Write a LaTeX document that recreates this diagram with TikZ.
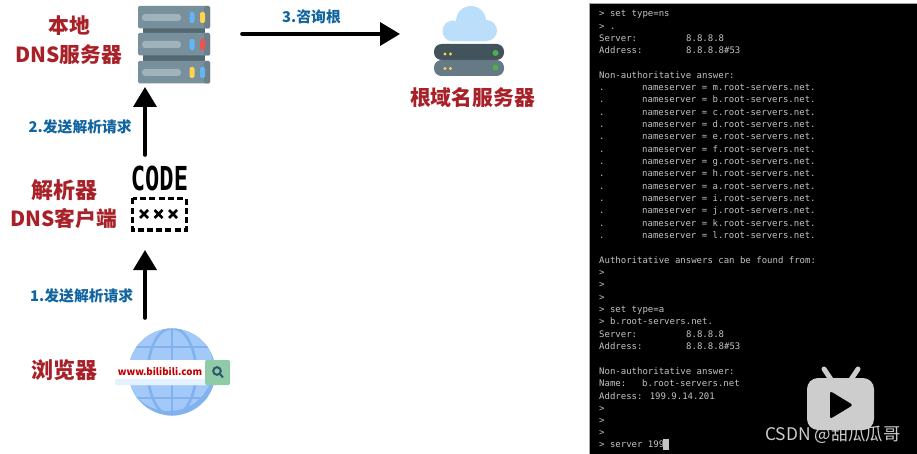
\documentclass[tikz,border=0pt]{standalone}
\usepackage{fontspec}
\usepackage{xcolor}
\usepackage{tikz}
\usetikzlibrary{arrows.meta,positioning}
\setmainfont{Noto Sans CJK SC}
\newfontfamily\termfont{DejaVu Sans Mono}
\definecolor{titlered}{RGB}{168,32,40}
\definecolor{stepblue}{RGB}{16,100,160}
\definecolor{slate}{RGB}{120,144,156}
\definecolor{slatedark}{RGB}{84,104,114}
\definecolor{slatelight}{RGB}{160,178,188}
\definecolor{ledblue}{RGB}{100,181,246}
\definecolor{ledyellow}{RGB}{255,213,79}
\definecolor{ledred}{RGB}{239,83,80}
\definecolor{ledgreen}{RGB}{76,175,80}
\definecolor{cloudblue}{RGB}{187,222,251}
\definecolor{globeblue}{RGB}{163,201,248}
\definecolor{gridblue}{RGB}{130,177,240}
\definecolor{barband}{RGB}{227,242,253}
\definecolor{bargreen}{RGB}{142,203,166}
\definecolor{lensblue}{RGB}{47,85,112}
\definecolor{termtext}{RGB}{195,195,195}
\definecolor{markgray}{RGB}{205,205,205}

\begin{document}
\begin{tikzpicture}[x=1pt,y=-1pt,
      title/.style={font=\fontsize{20.8}{24}\selectfont\bfseries, text=titlered, inner sep=0pt},
      bigtitle/.style={title, font=\fontsize{22}{24}\selectfont\bfseries},
      steplabel/.style={font=\fontsize{14.8}{16}\selectfont\bfseries, text=stepblue, inner sep=0pt},
      bigarr/.style={-{Triangle[length=20pt,width=23pt]}, line width=3.6pt, line cap=round, color=black},
      icon/.style={inner sep=0pt, outer sep=0pt},
      termline/.style={anchor=base west, inner sep=0pt, text=termtext, font=\termfont\fontsize{9}{10}\selectfont},
      slab/.style={fill=slate, rounded corners=1.5pt},
      led/.style={rounded corners=2pt}
    ]
      \useasboundingbox (0,0) rectangle (917,454);
      \fill[white] (0,0) rectangle (917,454);

      \node[icon, minimum width=72pt, minimum height=77pt] (dnsserver) at (174,44.5) {};
      \node[icon, minimum width=57pt, minimum height=66pt] (code) at (159.5,199) {};
      \node[icon, minimum width=86pt, minimum height=88pt] (browser) at (172,373) {};
      \node[icon, minimum width=70pt, minimum height=70pt] (rootserver) at (469,41) {};

      \fill[slatedark] (143,26) rectangle (205,64);
      \foreach \y/\ca/\cb in {6/ledblue/ledyellow,33/ledblue/ledred,61/ledyellow/ledblue}{
        \fill[slab] (138,\y) rectangle (210,\y+22.5);
        \fill[slatedark!85, rounded corners=1.5pt] (204,\y) rectangle (210,\y+22.5);
        \fill[slatelight, rounded corners=3pt] (142,\y+8) rectangle (181,\y+15);
        \fill[led,\ca] (189.5,\y+6) rectangle (194.5,\y+17);
        \fill[led,\cb] (200,\y+6) rectangle (205,\y+17);
      }

      \node[inner sep=0pt] (codetext) at (159.5,178) {\scalebox{0.72}[1]{\termfont\fontsize{33}{33}\selectfont\bfseries CODE}};
      \draw[line width=3pt, dash pattern=on 6pt off 3.2pt] (132.5,198.5) rectangle (186,230);
      \foreach \x in {144,158.5,173}{
        \draw[line width=2.6pt] (\x-4,210) -- (\x+4,218) (\x-4,218) -- (\x+4,210);
      }

      \fill[gridblue] (172,372) circle[radius=43.5pt];
      \begin{scope}
        \clip (172,372) circle[radius=43.5pt];
        \fill[globeblue] (169,367) circle[radius=44pt];
        \draw[gridblue, line width=2.6pt] (172,325) -- (172,420) (125,347) -- (220,347) (125,398) -- (220,398);
        \draw[gridblue, line width=2.6pt] (172,372) ellipse[x radius=24pt, y radius=44pt];
      \end{scope}
      \fill[white, rounded corners=1pt] (115,360) rectangle (206,385);
      \fill[barband, rounded corners=1pt] (115,379) rectangle (206,385);
      \fill[bargreen, rounded corners=1.5pt] (205,360) rectangle (230,385);
      \draw[line width=2pt, color=lensblue] (217,371) circle[radius=3.8pt] (220,374) -- (223,377.5);
      \node[inner sep=0pt, text=red!75!black, font=\fontsize{9.7}{12}\selectfont\bfseries] (urltext) at (160,371.5) {www.bilibili.com};

      \fill[cloudblue] (471,21) circle[radius=15pt] (453,31) circle[radius=10.5pt] (486.5,30.5) circle[radius=10.5pt] (453,28) rectangle (487,41.5);
      \fill[slatedark!80!black, rounded corners=7.5pt] (434,44) rectangle (504,60);
      \fill[slate!85!black, rounded corners=7.5pt] (434,60) rectangle (504,76);
      \foreach \y in {54,68.5}{
        \fill[ledyellow] (445,\y) circle[radius=1.6pt] (450.5,\y) circle[radius=1.6pt];
        \fill[ledgreen] (495.5,\y-1) circle[radius=3pt];
      }

      \node[title] (local) at (69,26) {本地};
      \node[title, below=8pt of local] (localdns) {DNS服务器};
      \node[bigtitle] (resolver) at (64,190) {解析器};
      \node[title, below=8pt of resolver] (client) {DNS客户端};
      \node[bigtitle] (browsername) at (64,370.5) {浏览器};
      \node[title, below=11pt of rootserver, xshift=3.5pt] (rootname) {根域名服务器};

      \draw[bigarr] ([xshift=-27pt]browser.north) ++(0,-11) -- node[steplabel,pos=0.33,left=10pt]{1.发送解析请求} (145,250);
      \draw[bigarr] ([xshift=-14.5pt]code.north) ++(0,-11) -- node[steplabel,pos=0.42,left=11.5pt]{2.发送解析请求} ([xshift=-29pt,yshift=-4pt]dnsserver.south);
      \draw[bigarr] ([yshift=10.5pt]dnsserver.east) ++(32,0) -- node[steplabel,pos=0.44,above=8pt]{3.咨询根} ([xshift=-34pt,yshift=7pt]rootserver.west);

      \fill[black] (589,3) rectangle (917,454);
      \draw[gray!70, line width=0.8pt] (589,454) -- (589,3) -- (917,3);

      \node[termline] (prompta) at (599,17) {> set type=ns};
      \node[termline] (promptb) at (599,30) {> .};
      \node[termline] (servera) at (599,42) {Server:};
      \node[termline] (serverip) at (686,42) {8.8.8.8};
      \node[termline] (addressa) at (599,54) {Address:};
      \node[termline] (addressip) at (686,54) {8.8.8.8\#53};
      \node[termline] (nonautha) at (599,79) {Non-authoritative answer:};
      \foreach \n/\letter in {0/m,1/b,2/c,3/d,4/e,5/f,6/g,7/h,8/a,9/i,10/j,11/k,12/l}{
        \node[termline] (dot\letter) at (599,{90.5+12.35*\n}) {.};
        \node[termline] (ns\letter) at (642,{90.5+12.35*\n}) {nameserver = \letter.root-servers.net.};
      }
      \node[termline] (authans) at (599,263) {Authoritative answers can be found from:};
      \foreach \n in {275,287.5,300,411,423,435.5}{
        \node[termline] (empty\n) at (599,\n) {>};
      }
      \node[termline] (promptc) at (599,312) {> set type=a};
      \node[termline] (promptd) at (599,324.5) {> b.root-servers.net.};
      \node[termline] (serverb) at (599,337) {Server:};
      \node[termline] (serveripb) at (686,337) {8.8.8.8};
      \node[termline] (addressb) at (599,349) {Address:};
      \node[termline] (addressipb) at (686,349) {8.8.8.8\#53};
      \node[termline] (nonauthb) at (599,374) {Non-authoritative answer:};
      \node[termline] (nameb) at (599,386.5) {Name:};
      \node[termline] (namehost) at (642,386.5) {b.root-servers.net};
      \node[termline] (addressc) at (599,399) {Address: 199.9.14.201};
      \node[termline] (prompte) at (599,447.5) {> server 199};
      \fill[termtext] (663,439) rectangle (668.5,450);

      \draw[markgray, line width=5pt, line cap=round] (824,369) -- (832,381) (858,369) -- (850,381);
      \fill[markgray, rounded corners=11pt] (807,378) rectangle (874,430);
      \fill[black, rounded corners=2.5pt] (830,391) -- (853,405) -- (830,419) -- cycle;
      \node[inner sep=0pt, text=markgray, font=\fontsize{17.4}{18}\selectfont] (watermark) at (833,435) {CSDN @甜瓜瓜哥};
    \end{tikzpicture}
\end{document}
